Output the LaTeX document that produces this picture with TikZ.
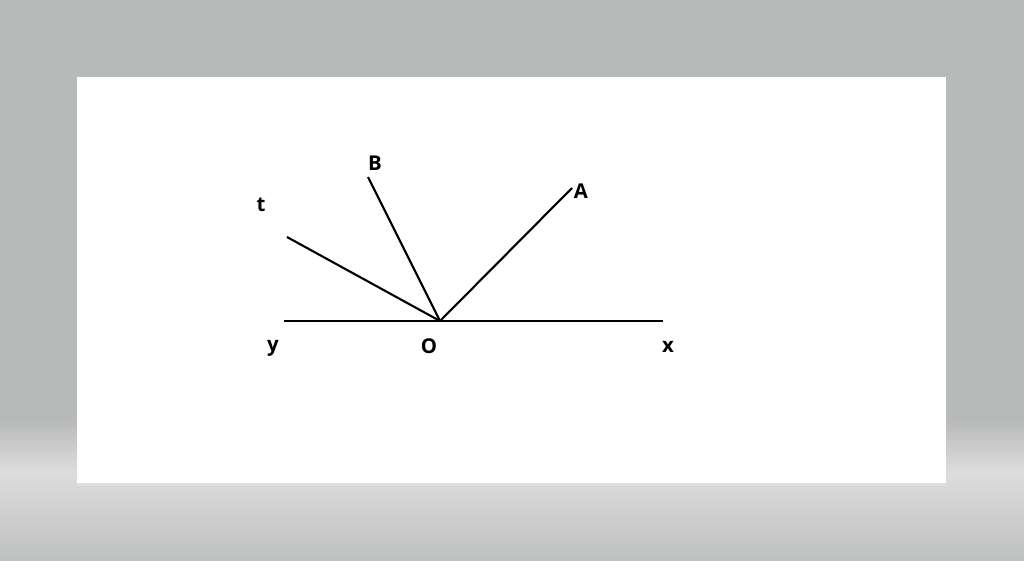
\documentclass[tikz,border=0pt]{standalone}
\usepackage{fontspec}
\setmainfont{Open Sans}
\usetikzlibrary{positioning}
\definecolor{bggray}{HTML}{B8BAB9}
\definecolor{bglight}{HTML}{DCDDDC}
\definecolor{bgdark}{HTML}{BFC1C0}
\begin{document}
\begin{tikzpicture}[x=0.025cm,y=-0.025cm,
    ray/.style={line width=1.5pt},
    lbl/.style={font=\fontsize{14.5}{16}\selectfont\bfseries,inner sep=0pt}]
            % background and sheet
            \useasboundingbox (0,0) rectangle (1024,560);
            \fill [bggray] (0,0) rectangle (1024,420);
            \shade [top color=bggray,bottom color=bglight] (0,420) rectangle (1024,472);
            \shade [top color=bglight,bottom color=bgdark] (0,472) rectangle (1024,560);
            \fill [black!12] (77,483) rectangle (946,486);
            \fill [white] (77,77) rectangle (946,483);

            \coordinate (O) at (440,321);
            \coordinate (Y) at (284,321);
            \coordinate (X) at (663,321);
            \coordinate (T) at (287,237);
            \coordinate (B) at (368,177);
            \coordinate (A) at (572,188);

            \node [lbl] (tlbl) at (261,205) {t};
            \node [lbl] (blbl) at (375,163) {B};
            \node [lbl] (albl) at (581,191) {A};
            \node [lbl] (ylbl) at (273,348) {y};
            \node [lbl] (olbl) at (429,346) {O};
            \node [lbl] (xlbl) at (668,347) {x};

            \draw [ray] (Y) -- (X);
            \draw [ray] (O) -- (T);
            \draw [ray] (O) -- (B);
            \draw [ray] (O) -- (A);
        \end{tikzpicture}
\end{document}
